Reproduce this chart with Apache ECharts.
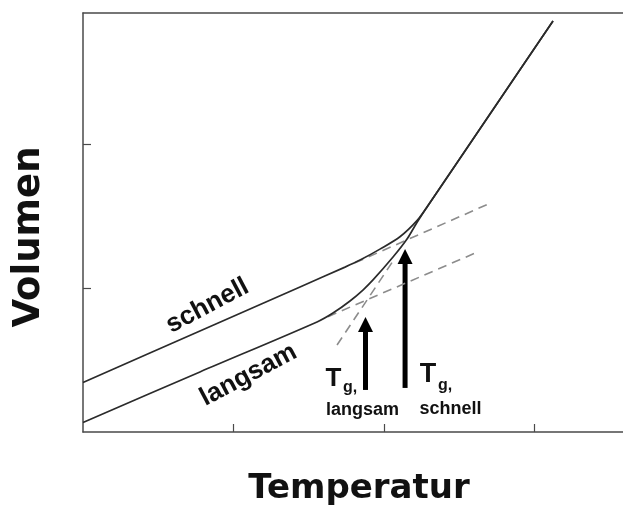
<!DOCTYPE html>
<html>
<head>
<meta charset="utf-8">
<script src="https://cdn.jsdelivr.net/npm/echarts@6/dist/echarts.min.js"></script>
<style>
  html, body { margin: 0; padding: 0; background: #fff; }
  #chart { width: 623px; height: 516px; }
</style>
</head>
<body>
<div id="chart"></div>
<script>
  // Temperatur (x) / Volumen (y) in Achseneinheiten
  var schnell = [[0, 0.344], [0.777, 0.701], [1.442, 1.007], [1.741, 1.145], [1.841, 1.194],
                 [1.973, 1.270], [2.106, 1.356], [2.219, 1.468], [2.286, 1.563], [2.700, 2.201], [3.123, 2.854]];
  var langsam = [[0, 0.066], [0.777, 0.417], [1.555, 0.764], [1.661, 0.826], [1.774, 0.910],
                 [1.860, 0.986], [1.927, 1.056], [2.060, 1.215], [2.153, 1.340], [2.219, 1.455],
                 [2.286, 1.563], [2.700, 2.201], [3.123, 2.854]];
  // gestrichelte Verlaengerungen
  var dashSchnell = [[1.807, 1.175], [2.684, 1.579]];
  var dashLangsam = [[1.628, 0.801], [2.611, 1.245]];
  var dashLiquid = [[1.688, 0.604], [2.073, 1.208]];
  // Pfeile: x, y Anfang, y Spitze
  var arrows = [[1.877, 0.292, 0.799], [2.140, 0.306, 1.271]];
  var xTicks = [1, 2, 3];
  var yTicks = [1, 2];
  // Beschriftungen
  var labelTexts = ['schnell', 'langsam', 'T', 'g,', 'langsam', 'T', 'g,', 'schnell'];
  var labelAnchors = [[0.827, 0.875], [1.100, 0.396], [1.664, 0.368], [1.728, 0.309],
                      [1.857, 0.155], [2.292, 0.396], [2.359, 0.322], [2.442, 0.162]];

  var labelStyle = [
    { font: 'bold 26px "Liberation Sans"', rot: 28, align: 'center' },
    { font: 'bold 26px "Liberation Sans"', rot: 28, align: 'center' },
    { font: 'bold 26px "Liberation Sans"', rot: 0, align: 'center' },
    { font: 'bold 16px "Liberation Sans"', rot: 0, align: 'left' },
    { font: 'bold 18px "Liberation Sans"', rot: 0, align: 'center' },
    { font: 'bold 27px "Liberation Sans"', rot: 0, align: 'center' },
    { font: 'bold 16px "Liberation Sans"', rot: 0, align: 'left' },
    { font: 'bold 18px "Liberation Sans"', rot: 0, align: 'center' }
  ];

  var chart = echarts.init(document.getElementById('chart'), null, { renderer: 'canvas' });

  var axisColor = '#4a4a4a';
  var curveColor = '#2b2b2b';
  var dashColor = '#8c8c8c';

  function dashSeries(data) {
    return {
      type: 'line',
      data: data,
      symbol: 'none',
      silent: true,
      lineStyle: { color: dashColor, width: 1.6, type: [9, 6] }
    };
  }

  chart.setOption({
    animation: false,
    grid: { left: 83, top: 13, right: 0, bottom: 84 },
    xAxis: [{
      type: 'value',
      min: 0,
      max: 540 / 150.5,
      axisLine: { show: true, onZero: false, lineStyle: { color: axisColor, width: 1.5 } },
      axisTick: { show: true, inside: true, length: 8, customValues: xTicks, lineStyle: { color: axisColor, width: 1.2 } },
      axisLabel: { show: false },
      splitLine: { show: false }
    }, {
      type: 'value',
      position: 'top',
      min: 0,
      max: 540 / 150.5,
      axisLine: { show: true, onZero: false, lineStyle: { color: axisColor, width: 1.5 } },
      axisTick: { show: false },
      axisLabel: { show: false },
      splitLine: { show: false }
    }],
    yAxis: {
      type: 'value',
      min: 0,
      max: 419 / 144,
      axisLine: { show: true, onZero: false, lineStyle: { color: axisColor, width: 1.5 } },
      axisTick: { show: true, inside: true, length: 8, customValues: yTicks, lineStyle: { color: axisColor, width: 1.2 } },
      axisLabel: { show: false },
      splitLine: { show: false }
    },
    graphic: [{
      type: 'text',
      x: 29, y: 237,
      rotation: Math.PI / 2,
      style: {
        text: 'Volumen', font: 'bold 37px "DejaVu Sans"', fill: '#111',
        textAlign: 'center', textVerticalAlign: 'middle', align: 'center', verticalAlign: 'middle'
      }
    }, {
      type: 'text',
      x: 359, y: 489,
      style: {
        text: 'Temperatur', font: 'bold 34px "DejaVu Sans"', fill: '#111',
        textAlign: 'center', textVerticalAlign: 'middle', align: 'center', verticalAlign: 'middle'
      }
    }],
    series: [
      dashSeries(dashSchnell),
      dashSeries(dashLangsam),
      dashSeries(dashLiquid),
      {
        name: 'schnell',
        type: 'line',
        data: schnell,
        symbol: 'none',
        smooth: 0.3,
        lineStyle: { color: curveColor, width: 1.7 }
      },
      {
        name: 'langsam',
        type: 'line',
        data: langsam,
        symbol: 'none',
        smooth: 0.3,
        lineStyle: { color: curveColor, width: 1.7 }
      },
      {
        type: 'custom',
        data: arrows,
        encode: { x: 0, y: [1, 2] },
        renderItem: function (params, api) {
          var p0 = api.coord([api.value(0), api.value(1)]);
          var p1 = api.coord([api.value(0), api.value(2)]);
          var head = 15, half = 7.5, shaft = 5;
          return {
            type: 'group',
            children: [{
              type: 'rect',
              shape: { x: p0[0] - shaft / 2, y: p1[1] + head - 1, width: shaft, height: p0[1] - p1[1] - head + 1 },
              style: { fill: '#000' }
            }, {
              type: 'polygon',
              shape: { points: [[p1[0], p1[1]], [p1[0] - half, p1[1] + head], [p1[0] + half, p1[1] + head]] },
              style: { fill: '#000' }
            }]
          };
        }
      },
      {
        type: 'custom',
        data: labelAnchors,
        encode: { x: 0, y: 1 },
        renderItem: function (params, api) {
          var i = params.dataIndex;
          var p = api.coord([api.value(0), api.value(1)]);
          var st = labelStyle[i];
          return {
            type: 'text',
            x: p[0], y: p[1],
            rotation: st.rot * Math.PI / 180,
            style: {
              text: labelTexts[i], font: st.font, fill: '#111',
              textAlign: st.align, textVerticalAlign: 'middle', align: st.align, verticalAlign: 'middle'
            }
          };
        }
      }
    ]
  });
</script>
</body>
</html>
